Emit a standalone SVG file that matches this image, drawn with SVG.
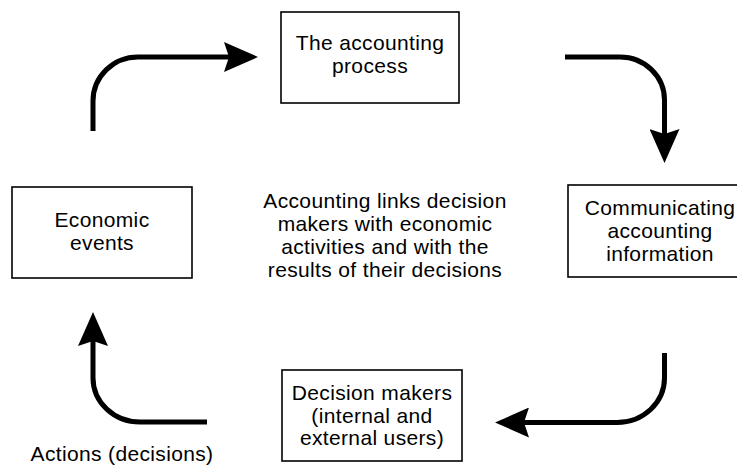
<svg xmlns="http://www.w3.org/2000/svg" width="737" height="466" viewBox="0 0 737 466">
  <style>
    .box { fill: #ffffff; stroke: #000000; stroke-width: 1.6; }
    .label { font-family: "Liberation Sans", Arial, Helvetica, sans-serif; font-size: 21px; letter-spacing: 0.35px; fill: #000000; text-anchor: middle; }
    .flow { fill: none; stroke: #000000; stroke-width: 5; stroke-linecap: butt; }
  </style>
  <defs>
    <marker id="head" viewBox="0 0 34 30" refX="5" refY="15" markerWidth="34" markerHeight="30" markerUnits="userSpaceOnUse" orient="auto">
      <path d="M0,0 L34,15 L0,30 L5,15 Z" fill="#000000"/>
    </marker>
  </defs>

  <rect width="737" height="466" fill="#ffffff"/>

  <!-- cycle connectors -->
  <g id="connectors">
    <path class="flow" d="M93,131 L93,101 A45,44 0 0 1 138,57 L229,57" marker-end="url(#head)"/>
    <path class="flow" d="M565,57 L620,57 A44.5,43 0 0 1 664.5,100 L664.5,134" marker-end="url(#head)"/>
    <path class="flow" d="M664.5,353 L664.5,378 A47.5,44.5 0 0 1 617,422.5 L524,422.5" marker-end="url(#head)"/>
    <path class="flow" d="M207,422 L140,422 A47,44 0 0 1 93,378 L93,341" marker-end="url(#head)"/>
  </g>

  <g id="accounting-process">
    <rect class="box" x="281" y="12" width="178" height="91"/>
    <text class="label" x="370" y="50">The accounting</text>
    <text class="label" x="370" y="73">process</text>
  </g>

  <g id="communicating">
    <rect class="box" x="568" y="185" width="190" height="92"/>
    <text class="label" x="660" y="215">Communicating</text>
    <text class="label" x="660" y="238">accounting</text>
    <text class="label" x="660" y="261">information</text>
  </g>

  <g id="decision-makers">
    <rect class="box" x="282" y="370" width="180" height="91"/>
    <text class="label" x="372" y="400">Decision makers</text>
    <text class="label" x="372" y="423">(internal and</text>
    <text class="label" x="372" y="445">external users)</text>
  </g>

  <g id="economic-events">
    <rect class="box" x="12" y="187" width="180" height="91"/>
    <text class="label" x="102" y="227">Economic</text>
    <text class="label" x="102" y="250">events</text>
  </g>

  <g id="summary">
    <text class="label" x="385" y="208">Accounting links decision</text>
    <text class="label" x="385" y="231">makers with economic</text>
    <text class="label" x="385" y="254">activities and with the</text>
    <text class="label" x="385" y="277">results of their decisions</text>
  </g>

  <g id="actions-label">
    <text class="label" x="122" y="461">Actions (decisions)</text>
  </g>
</svg>
